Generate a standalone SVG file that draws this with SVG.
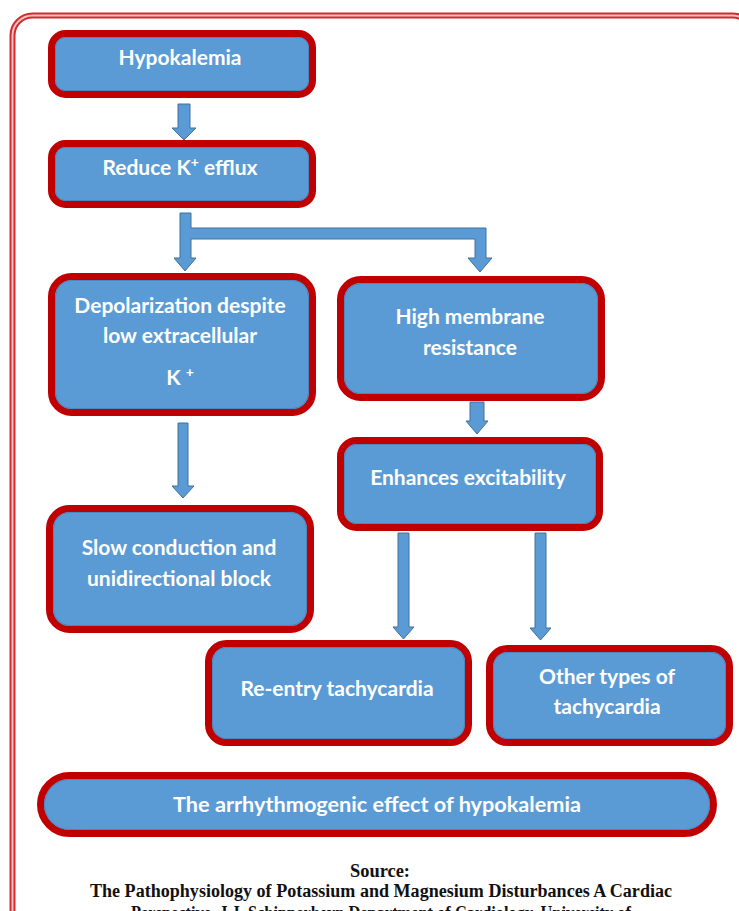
<svg xmlns="http://www.w3.org/2000/svg" width="739" height="911" viewBox="0 0 739 911">
<defs>
<style>
.node rect.box{fill:#5b9bd5;stroke:#c00000;stroke-width:7}
.node rect.inner{fill:none;stroke:#4a86c0;stroke-width:1}
.lbl{font-family:Lato,"Liberation Sans",sans-serif;font-weight:bold;font-size:21px;fill:#ffffff;text-anchor:middle}
.arrow{fill:#5b9bd5;stroke:#41719c;stroke-width:1}
.src{font-family:"Liberation Serif","Times New Roman",serif;font-weight:bold;font-size:18px;fill:#111;text-anchor:middle}
</style>
</defs>
<rect width="739" height="911" fill="#ffffff"/>
<g id="frame">
<rect x="12.5" y="15.5" width="740" height="950" rx="20" fill="none" stroke="#d42a2e" stroke-width="6"/>
<rect x="12.5" y="15.5" width="740" height="950" rx="20" fill="none" stroke="#f6c2c2" stroke-width="2"/>
</g>
<g id="connectors">
<path class="arrow" d="M178,104 H190 V128 H196 L184,140 L172,128 H178 Z"/>
<path class="arrow" d="M180,213 H191 V228 H486 V258 H492 L480,272 L468,258 H475 V239 H191 V258 H196 L185,271 L174,258 H180 Z"/>
<path class="arrow" d="M470,402 H484 V421 H488 L477,434 L466,421 H470 Z"/>
<path class="arrow" d="M178,423 H188 V486 H194 L183,498 L172,486 H178 Z"/>
<path class="arrow" d="M398,533 H409 V627 H414 L403.5,639 L393,627 H398 Z"/>
<path class="arrow" d="M535,533 H546 V628 H551 L540.5,640 L530,628 H535 Z"/>
</g>
<g id="n1" class="node">
<rect class="box" x="51.5" y="33.5" width="261" height="61" rx="14"/>
<rect class="inner" x="55.5" y="37.5" width="253" height="53" rx="10"/>
<text class="lbl" x="180" y="65">Hypokalemia</text>
</g>
<g id="n2" class="node">
<rect class="box" x="51.5" y="143.5" width="261" height="61" rx="14"/>
<rect class="inner" x="55.5" y="147.5" width="253" height="53" rx="10"/>
<text class="lbl" x="180" y="175">Reduce K<tspan font-size="14" dy="-8">+</tspan><tspan dy="8"> efflux</tspan></text>
</g>
<g id="n3" class="node">
<rect class="box" x="51.5" y="276.5" width="261" height="136" rx="20"/>
<rect class="inner" x="55.5" y="280.5" width="253" height="128" rx="16"/>
<text class="lbl" x="180" y="313">Depolarization despite</text>
<text class="lbl" x="180" y="343">low extracellular</text>
<text class="lbl" x="180" y="385">K <tspan font-size="14" dy="-8">+</tspan></text>
</g>
<g id="n4" class="node">
<rect class="box" x="340.5" y="279.5" width="261" height="118" rx="20"/>
<rect class="inner" x="344.5" y="283.5" width="253" height="110" rx="16"/>
<text class="lbl" x="470" y="324">High membrane</text>
<text class="lbl" x="470" y="355">resistance</text>
</g>
<g id="n5" class="node">
<rect class="box" x="340.5" y="440.5" width="259" height="87" rx="16"/>
<rect class="inner" x="344.5" y="444.5" width="251" height="79" rx="12"/>
<text class="lbl" x="468" y="485">Enhances excitability</text>
</g>
<g id="n6" class="node">
<rect class="box" x="49.5" y="508.5" width="261" height="121" rx="20"/>
<rect class="inner" x="53.5" y="512.5" width="253" height="113" rx="16"/>
<text class="lbl" x="179" y="555">Slow conduction and</text>
<text class="lbl" x="179" y="586">unidirectional block</text>
</g>
<g id="n7" class="node">
<rect class="box" x="208.5" y="643.5" width="260" height="99" rx="18"/>
<rect class="inner" x="212.5" y="647.5" width="252" height="91" rx="14"/>
<text class="lbl" x="337" y="696">Re-entry tachycardia</text>
</g>
<g id="n8" class="node">
<rect class="box" x="489.5" y="648.5" width="240" height="94" rx="18"/>
<rect class="inner" x="493.5" y="652.5" width="232" height="86" rx="14"/>
<text class="lbl" x="607" y="684">Other types of</text>
<text class="lbl" x="607" y="714">tachycardia</text>
</g>
<g id="n9" class="node">
<rect class="box" x="40.5" y="775.5" width="673" height="58" rx="29"/>
<rect class="inner" x="44.5" y="779.5" width="665" height="50" rx="25"/>
<text class="lbl" x="377" y="812" font-size="22" textLength="408" lengthAdjust="spacingAndGlyphs">The arrhythmogenic effect of hypokalemia</text>
</g>
<g id="source">
<text class="src" x="380" y="877" textLength="60" lengthAdjust="spacingAndGlyphs">Source:</text>
<text class="src" x="381" y="897" textLength="582" lengthAdjust="spacingAndGlyphs">The Pathophysiology of Potassium and Magnesium Disturbances A Cardiac</text>
<text class="src" x="381" y="919" textLength="500" lengthAdjust="spacingAndGlyphs">Perspective. J.J. Schipperheyn Department of Cardiology, University of</text>
</g>
</svg>
